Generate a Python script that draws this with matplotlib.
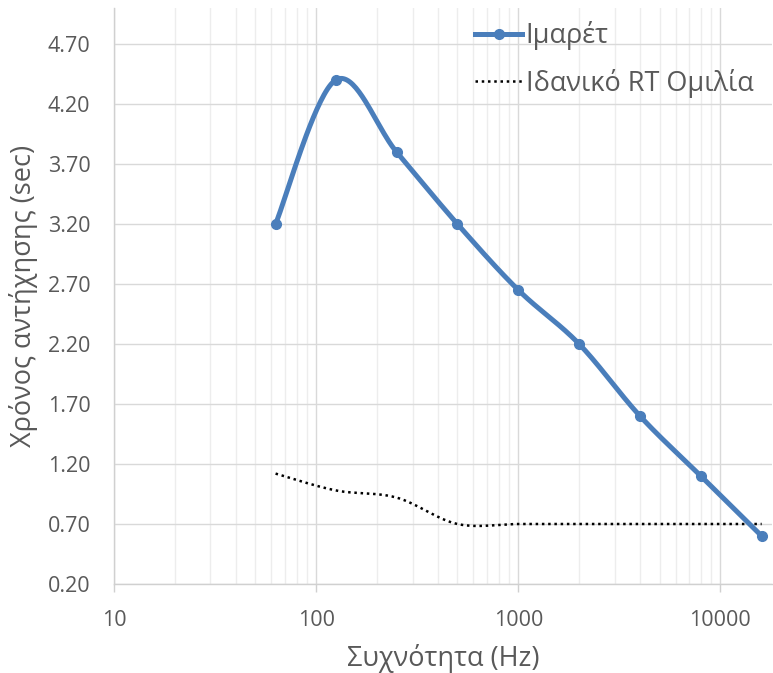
import numpy as np
import matplotlib
matplotlib.use("Agg")
import matplotlib.pyplot as plt
from matplotlib.ticker import FixedLocator, LogLocator, NullFormatter, FuncFormatter
from matplotlib.lines import Line2D

plt.rcParams['font.family'] = ['Open Sans', 'DejaVu Sans']

freqs = [63, 125, 250, 500, 1000, 2000, 4000, 8000, 16000]
imaret = [3.2, 4.4, 3.8, 3.2, 2.65, 2.2, 1.6, 1.1, 0.6]
ideal = [1.12, 0.98, 0.92, 0.70, 0.70, 0.70, 0.70, 0.70, 0.70]
series_names = ["Ιμαρέτ", "Ιδανικό RT Ομιλία"]
y_ticks = [0.20, 0.70, 1.20, 1.70, 2.20, 2.70, 3.20, 3.70, 4.20, 4.70]
x_ticks = [10, 100, 1000, 10000]
x_label = "Συχνότητα (Hz)"
y_label = "Χρόνος αντήχησης (sec)"


def smooth(xs, ys, n=40):
    # Excel-like smoothed line: Catmull-Rom Bezier in (log10 x, y) space
    u = np.log10(np.asarray(xs, float))
    v = np.asarray(ys, float)
    P = np.column_stack([u, v])
    m = len(P)
    out = [P[0]]
    for i in range(m - 1):
        p0 = P[i - 1] if i > 0 else P[i]
        p1 = P[i]
        p2 = P[i + 1]
        p3 = P[i + 2] if i + 2 < m else P[i + 1]
        c1 = p1 + (p2 - p0) / 6.0
        c2 = p2 - (p3 - p1) / 6.0
        t = np.linspace(0, 1, n)[1:, None]
        seg = ((1 - t) ** 3) * p1 + 3 * ((1 - t) ** 2) * t * c1 + 3 * (1 - t) * t ** 2 * c2 + t ** 3 * p2
        out.extend(seg)
    out = np.array(out)
    return 10 ** out[:, 0], out[:, 1]


W, H = 773, 673
fig = plt.figure(figsize=(W / 100, H / 100), dpi=100)
ax = fig.add_axes([114 / W, (H - 584) / H, (772 - 114) / W, (584 - 8) / H])

ax.set_xscale('log')
ax.set_xlim(10, 18000)
ax.set_ylim(0.20, 5.0)

blue = '#4A7EBB'
dot_style = (0, (1, 1.5))
sx, sy = smooth(freqs, imaret)
ax.plot(sx, sy, color=blue, lw=3.6, solid_capstyle='round', zorder=4)
ax.plot(freqs, imaret, 'o', color=blue, ms=7, zorder=5)
ix, iy = smooth(freqs, ideal)
ax.plot(ix, iy, color='black', lw=1.8, linestyle=dot_style, zorder=3)

h1 = Line2D([], [], color=blue, lw=3.6, marker='o', ms=7)
h2 = Line2D([], [], color='black', lw=1.8, linestyle=dot_style)
leg = ax.legend([h1, h2], series_names, loc='upper right', bbox_to_anchor=(0.988, 0.996),
                frameon=False, fontsize=19.5, handlelength=1.75, handletextpad=0.12,
                labelspacing=0.68, labelcolor='#595959', borderaxespad=0.0)
leg.set_zorder(6)

ax.yaxis.set_major_locator(FixedLocator(y_ticks))
ax.yaxis.set_major_formatter(FuncFormatter(lambda v, p: f"{v:.2f}"))
ax.xaxis.set_major_locator(FixedLocator(x_ticks))
ax.xaxis.set_major_formatter(FuncFormatter(lambda v, p: f"{int(round(v))}"))
ax.xaxis.set_minor_locator(LogLocator(base=10, subs=np.arange(2, 10), numticks=20))
ax.xaxis.set_minor_formatter(NullFormatter())

ax.grid(True, which='major', axis='both', color='#D9D9D9', lw=1.0, zorder=0)
ax.grid(True, which='minor', axis='x', color='#EDEDED', lw=1.0, zorder=0)
ax.set_axisbelow(True)

for s in ['top', 'right']:
    ax.spines[s].set_visible(False)
for s in ['left', 'bottom']:
    ax.spines[s].set_color('#D0D0D0')
    ax.spines[s].set_linewidth(1.0)

ax.tick_params(axis='y', length=0, pad=17, labelsize=15.5, labelcolor='#595959')
ax.tick_params(axis='x', which='major', length=6, width=1, color='#D0D0D0', pad=13,
               labelsize=15.5, labelcolor='#595959')
ax.tick_params(axis='x', which='minor', length=0)

ax.set_xlabel(x_label, fontsize=19.5, color='#595959', labelpad=9)
ax.set_ylabel(y_label, fontsize=19.5, color='#595959', labelpad=7)

fig.savefig('out.png', dpi=100)
